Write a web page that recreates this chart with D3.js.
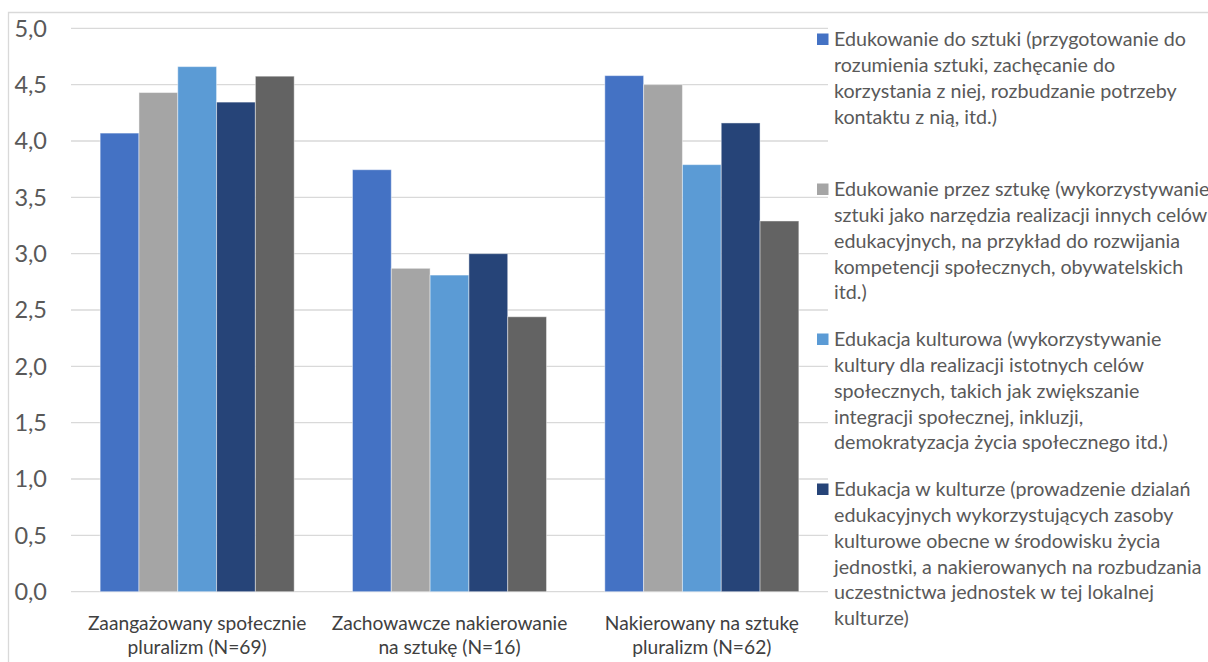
<!DOCTYPE html>
<html>
<head>
<meta charset="utf-8">
<script src="https://cdn.jsdelivr.net/npm/d3@7"></script>
<style>
  html, body { margin: 0; padding: 0; background: #fff; overflow: hidden; }
  svg { display: block; font-family: Lato, "Open Sans", sans-serif; }
</style>
</head>
<body>
<div id="chart"></div>
<script>
// categories (each label split into its two lines)
const categories = [
  ["Zaangażowany społecznie", "pluralizm (N=69)"],
  ["Zachowawcze nakierowanie", "na sztukę (N=16)"],
  ["Nakierowany na sztukę", "pluralizm (N=62)"]
];

// one value per category, series order as in legend
const edukowanieDo = [4.07, 3.745, 4.58];
const edukowaniePrzez = [4.43, 2.87, 4.5];
const edukacjaKulturowa = [4.66, 2.81, 3.79];
const edukacjaWKulturze = [4.345, 3.0, 4.16];
const piataSeria = [4.575, 2.44, 3.29];

const seriesValues = [edukowanieDo, edukowaniePrzez, edukacjaKulturowa, edukacjaWKulturze, piataSeria];
const seriesColors = ["#4472C4", "#A5A5A5", "#5B9BD5", "#264478", "#636363"];

// legend labels (the fifth entry falls outside the picture)
const legendLabels = [
  ["Edukowanie do sztuki (przygotowanie do", "rozumienia sztuki, zachęcanie do", "korzystania z niej, rozbudzanie potrzeby", "kontaktu z nią, itd.)"],
  ["Edukowanie przez sztukę (wykorzystywanie", "sztuki jako narzędzia realizacji innych celów", "edukacyjnych, na przykład do rozwijania", "kompetencji społecznych, obywatelskich", "itd.)"],
  ["Edukacja kulturowa (wykorzystywanie", "kultury dla realizacji istotnych celów", "społecznych, takich jak zwiększanie", "integracji społecznej, inkluzji,", "demokratyzacja życia społecznego itd.)"],
  ["Edukacja w kulturze (prowadzenie dzialań", "edukacyjnych wykorzystujących zasoby", "kulturowe obecne w środowisku życia", "jednostki, a nakierowanych na rozbudzania", "uczestnictwa jednostek w tej lokalnej", "kulturze)"]
];

const yTicks = [0, 0.5, 1, 1.5, 2, 2.5, 3, 3.5, 4, 4.5, 5];

const width = 1208;
const height = 662;
const plotLeft = 71;
const plotRight = 828;
const plotTop = 28.3;
const plotBottom = 591.7;

const svg = d3.select("#chart")
  .append("svg")
  .attr("width", width)
  .attr("height", height);

// chart area border (only top and left edges are in view)
svg.append("path")
  .attr("d", `M8.5,${height} V12.5 H${width}`)
  .attr("fill", "none")
  .attr("stroke", "#d9d9d9")
  .attr("stroke-width", 1.3);

const x = d3.scaleBand()
  .domain(d3.range(categories.length))
  .range([plotLeft, plotRight])
  .paddingInner(0.231)
  .paddingOuter(0.1155);

const xInner = d3.scaleBand()
  .domain(d3.range(seriesValues.length))
  .range([0, x.bandwidth()]);

const y = d3.scaleLinear()
  .domain([0, 5])
  .range([plotBottom, plotTop]);

const pl = d3.formatLocale({ decimal: ",", thousands: " ", grouping: [3], currency: ["", " zł"] });
const fmt = pl.format(".1f");

// gridlines
svg.append("g")
  .selectAll("line")
  .data(yTicks)
  .join("line")
  .attr("x1", plotLeft)
  .attr("x2", plotRight)
  .attr("y1", (d) => y(d))
  .attr("y2", (d) => y(d))
  .attr("stroke", "#d9d9d9")
  .attr("stroke-width", 1.3);

// y tick labels
svg.append("g")
  .selectAll("text")
  .data(yTicks)
  .join("text")
  .attr("x", 47)
  .attr("y", (d) => y(d))
  .attr("dy", "0.35em")
  .attr("text-anchor", "end")
  .attr("fill", "#595959")
  .style("font-size", "23.5px")
  .text((d) => fmt(d));

// bars
const groups = svg.append("g")
  .selectAll("g")
  .data(categories)
  .join("g")
  .attr("transform", (d, i) => `translate(${x(i)},0)`);

groups.selectAll("rect")
  .data((d, ci) => seriesValues.map((s, si) => ({ si: si, v: s[ci] })))
  .join("rect")
  .attr("x", (d) => xInner(d.si))
  .attr("width", xInner.bandwidth())
  .attr("y", (d) => y(d.v))
  .attr("height", (d) => y(0) - y(d.v))
  .attr("fill", (d) => seriesColors[d.si])
  .attr("stroke", "rgba(255,255,255,0.45)")
  .attr("stroke-width", 1);

// category labels
const catLabels = svg.append("g")
  .selectAll("text")
  .data(categories)
  .join("text")
  .attr("x", (d, i) => x(i) + x.bandwidth() / 2)
  .attr("y", 623)
  .attr("text-anchor", "middle")
  .attr("fill", "#404040")
  .style("font-size", "19.2px");

catLabels.selectAll("tspan")
  .data((d) => d)
  .join("tspan")
  .attr("x", function () { return d3.select(this.parentNode).attr("x"); })
  .attr("dy", (d, i) => (i === 0 ? "0.35em" : "24px"))
  .text((d) => d);

// legend
const legend = svg.append("g")
  .selectAll("g")
  .data(legendLabels)
  .join("g")
  .attr("transform", (d, i) => `translate(817,${39.3 + i * 150})`);

legend.append("rect")
  .attr("x", 0)
  .attr("y", -5.8)
  .attr("width", 11.5)
  .attr("height", 11.5)
  .attr("fill", (d, i) => seriesColors[i]);

legend.append("text")
  .attr("x", 17)
  .attr("y", 0)
  .attr("fill", "#595959")
  .style("font-size", "19.7px")
  .selectAll("tspan")
  .data((d) => d)
  .join("tspan")
  .attr("x", 17)
  .attr("dy", (d, i) => (i === 0 ? "0.35em" : "25.8px"))
  .text((d) => d);
</script>
</body>
</html>
